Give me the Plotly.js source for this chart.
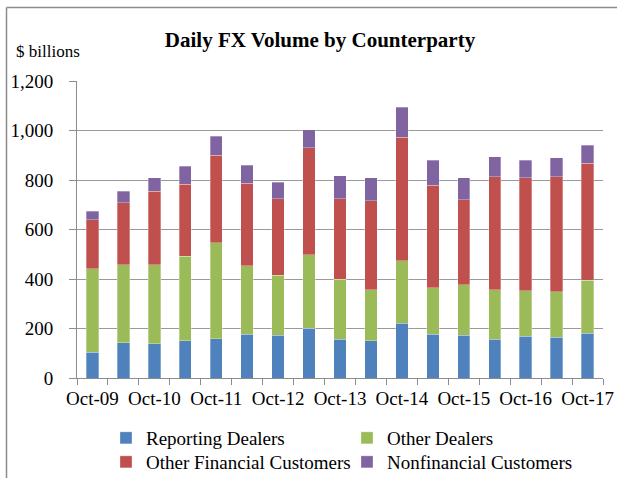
<!DOCTYPE html>
<html>
<head>
<meta charset="utf-8">
<script src="https://cdn.plot.ly/plotly-3.0.1.min.js"></script>
<style>
html,body{margin:0;padding:0;background:#fff;}
#chart{width:617px;height:478px;}
</style>
</head>
<body>
<div id="chart"></div>
<script>
// Survey dates (semi-annual)
var periods = ["Oct-09","Apr-10","Oct-10","Apr-11","Oct-11","Apr-12","Oct-12","Apr-13","Oct-13",
               "Apr-14","Oct-14","Apr-15","Oct-15","Apr-16","Oct-16","Apr-17","Oct-17"];
// Tick labels shown (every October)
var tickLabels = ["Oct-09","","Oct-10","","Oct-11","","Oct-12","","Oct-13",
                  "","Oct-14","","Oct-15","","Oct-16","","Oct-17"];
// $ billions
var reportingDealers = [105,143,139,151,159,177,173,202,156,151,222,177,173,156,169,165,181];
var otherDealers     = [336,314,318,340,387,276,242,297,243,206,251,187,203,201,184,184,213];
var otherFinancial   = [199,251,297,292,355,334,309,431,325,359,499,415,345,456,456,464,473];
var nonfinancial     = [ 34, 46, 55, 72, 75, 72, 67, 74, 93, 93,121,101, 88, 80, 71, 76, 74];

var seriesNames = ["Reporting Dealers","Other Dealers","Other Financial Customers","Nonfinancial Customers"];
var seriesColors = ["#4F81BD","#9BBB59","#C0504D","#8064A2"];
var seriesValues = [reportingDealers, otherDealers, otherFinancial, nonfinancial];
var seriesLegend = ["legend","legend","legend2","legend2"];

var FONT = "Liberation Serif, Times New Roman, serif";

var traces = seriesValues.map(function(vals, i){
  return {
    type: "bar",
    name: seriesNames[i],
    legend: seriesLegend[i],
    x: periods,
    y: vals,
    marker: {color: seriesColors[i], line: {color: "rgba(255,255,255,0.6)", width: 0.5}},
    hoverinfo: "x+y+name"
  };
});

// plot area in px: left 77, right 603, top 81, bottom 378
var L = 77, R = 603, T = 81, B = 378;
function px2x(px){ return (px - L) / (R - L); }
function py2y(py){ return (B - py) / (B - T); }

function legendRow(topPx){
  return {
    orientation: "h",
    x: px2x(106), xanchor: "left",
    y: py2y(topPx), yanchor: "top",
    entrywidth: 196, entrywidthmode: "pixels",
    itemwidth: 30,
    font: {family: FONT, size: 19, color: "#000"},
    traceorder: "normal",
    bgcolor: "rgba(0,0,0,0)"
  };
}

var layout = {
  width: 617, height: 478,
  margin: {l: L, r: 617 - R, t: T, b: 478 - B, pad: 0, autoexpand: false},
  paper_bgcolor: "#fff", plot_bgcolor: "#fff",
  font: {family: FONT, color: "#000", size: 19},
  barmode: "stack",
  bargap: 0.6,
  showlegend: true,
  title: {
    text: "<b>Daily FX Volume by Counterparty</b>",
    font: {family: FONT, size: 21, color: "#000"},
    xref: "container", x: 320/617, xanchor: "center",
    yref: "container", y: 1 - 40/478, yanchor: "middle"
  },
  xaxis: {
    type: "category",
    categoryorder: "array", categoryarray: periods,
    tickmode: "array", tickvals: periods, ticktext: tickLabels,
    tickson: "boundaries",
    ticks: "outside", ticklen: 6, tickcolor: "#8c8c8c", tickwidth: 1,
    ticklabelstandoff: 3,
    showline: true, linecolor: "#8c8c8c", linewidth: 1,
    showgrid: false, zeroline: false,
    tickangle: 0,
    tickfont: {family: FONT, size: 19, color: "#000"},
    fixedrange: true
  },
  yaxis: {
    range: [0, 1200], dtick: 200, tick0: 0,
    tickformat: ",d",
    ticks: "outside", ticklen: 7, tickcolor: "#8c8c8c", tickwidth: 1,
    ticklabelstandoff: 12,
    showline: true, linecolor: "#8c8c8c", linewidth: 1,
    showgrid: true, gridcolor: "#9a9a9a", gridwidth: 1,
    zeroline: false,
    tickfont: {family: FONT, size: 19, color: "#000"},
    fixedrange: true
  },
  legend: legendRow(419),
  legend2: legendRow(443),
  annotations: [{
    text: "$ billions",
    xref: "paper", yref: "paper",
    x: px2x(14), xanchor: "left",
    y: py2y(52), yanchor: "middle",
    showarrow: false,
    font: {family: FONT, size: 17, color: "#000"}
  }],
  shapes: [
    {type: "line", xref: "paper", yref: "paper", x0: px2x(6.5), x1: px2x(6.5), y0: py2y(7.5), y1: py2y(490),
     line: {color: "#8c8c8c", width: 1.5}},
    {type: "line", xref: "paper", yref: "paper", x0: px2x(6.5), x1: px2x(630), y0: py2y(7.5), y1: py2y(7.5),
     line: {color: "#8c8c8c", width: 1.5}}
  ]
};

Plotly.newPlot("chart", traces, layout, {displayModeBar: false, staticPlot: true});
</script>
</body>
</html>
